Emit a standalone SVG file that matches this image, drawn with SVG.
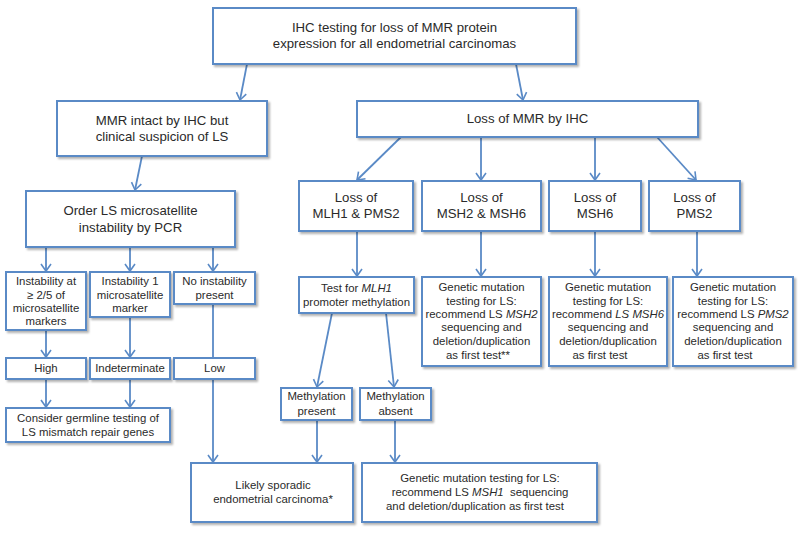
<svg xmlns="http://www.w3.org/2000/svg" width="800" height="540" viewBox="0 0 800 540">
<defs>
<filter id="sh" x="-10%" y="-10%" width="130%" height="140%">
<feDropShadow dx="2" dy="2" stdDeviation="1" flood-color="#000" flood-opacity="0.3"/>
</filter>
<marker id="ah" markerUnits="userSpaceOnUse" markerWidth="14" markerHeight="14" viewBox="-8 -7 10 14" refX="0" refY="0" orient="auto">
<path d="M-7,-5 L0,0 L-7,5" fill="none" stroke="#5a8ac6" stroke-width="1.6"/>
</marker>
<style>
.b{fill:#fff;stroke:#5a8ac6;stroke-width:2;filter:url(#sh)}
.c{stroke:#5a8ac6;stroke-width:1.8;fill:none}
.a{marker-end:url(#ah)}
text{font-family:"Liberation Sans",Arial,sans-serif;fill:#2a2a2a;text-anchor:middle}
.L{font-size:13.2px}
.s{font-size:11.4px}
.i{font-style:italic}
</style>
</defs>
<rect width="800" height="540" fill="#fff"/>

<g id="connectors">
<line class="c a" x1="247" y1="64" x2="240" y2="100"/>
<line class="c a" x1="516" y1="64" x2="523" y2="100"/>
<line class="c a" x1="142" y1="156" x2="135" y2="190"/>
<line class="c a" x1="401" y1="137" x2="357" y2="180"/>
<line class="c a" x1="481" y1="137" x2="481" y2="180"/>
<line class="c a" x1="595" y1="137" x2="595" y2="180"/>
<line class="c a" x1="657" y1="137" x2="696" y2="180"/>
<line class="c a" x1="46" y1="247" x2="46" y2="271"/>
<line class="c a" x1="130" y1="247" x2="130" y2="271"/>
<line class="c a" x1="213" y1="247" x2="213" y2="271"/>
<line class="c a" x1="46" y1="330" x2="46" y2="357"/>
<line class="c a" x1="130" y1="317" x2="130" y2="357"/>
<line class="c" x1="213" y1="304" x2="213" y2="358"/>
<line class="c a" x1="213" y1="379" x2="213" y2="462"/>
<line class="c a" x1="46" y1="379" x2="46" y2="407"/>
<line class="c a" x1="130" y1="379" x2="130" y2="407"/>
<line class="c a" x1="357" y1="231" x2="357" y2="276"/>
<line class="c a" x1="481" y1="231" x2="481" y2="276"/>
<line class="c a" x1="595" y1="231" x2="595" y2="276"/>
<line class="c a" x1="697" y1="231" x2="697" y2="276"/>
<line class="c a" x1="332" y1="313" x2="317" y2="387"/>
<line class="c a" x1="386" y1="313" x2="394" y2="387"/>
<line class="c a" x1="317" y1="420" x2="317" y2="462"/>
<line class="c a" x1="395" y1="420" x2="395" y2="462"/>
</g>

<g id="top">
<rect class="b" x="213" y="8" width="363" height="56"/>
<text class="L" x="394.5" y="32">IHC testing for loss of MMR protein</text>
<text class="L" x="394.5" y="48">expression for all endometrial carcinomas</text>
</g>

<g id="mmr-intact">
<rect class="b" x="57" y="101" width="210" height="55"/>
<text class="L" x="162" y="125">MMR intact by IHC but</text>
<text class="L" x="162" y="141">clinical suspicion of LS</text>
</g>

<g id="loss-mmr">
<rect class="b" x="357" y="101" width="341" height="36"/>
<text class="L" x="527.5" y="123">Loss of MMR by IHC</text>
</g>

<g id="order-ls">
<rect class="b" x="26" y="191" width="209" height="56"/>
<text class="L" x="130.5" y="215">Order LS microsatellite</text>
<text class="L" x="130.5" y="232">instability by PCR</text>
</g>

<g id="loss-mlh1">
<rect class="b" x="299" y="181" width="114" height="50"/>
<text class="L" x="356" y="202">Loss of</text>
<text class="L" x="356" y="218">MLH1 &amp; PMS2</text>
</g>

<g id="loss-msh2">
<rect class="b" x="422" y="181" width="119" height="50"/>
<text class="L" x="481.5" y="202">Loss of</text>
<text class="L" x="481.5" y="218">MSH2 &amp; MSH6</text>
</g>

<g id="loss-msh6">
<rect class="b" x="549" y="181" width="92" height="50"/>
<text class="L" x="595" y="202">Loss of</text>
<text class="L" x="595" y="218">MSH6</text>
</g>

<g id="loss-pms2">
<rect class="b" x="649" y="181" width="91" height="50"/>
<text class="L" x="694.5" y="202">Loss of</text>
<text class="L" x="694.5" y="218">PMS2</text>
</g>

<g id="test-mlh1">
<rect class="b" x="299" y="277" width="115" height="36"/>
<text class="s" x="356.5" y="292">Test for <tspan class="i">MLH1</tspan></text>
<text class="s" x="356.5" y="306">promoter methylation</text>
</g>

<g id="gen-msh2">
<rect class="b" x="422" y="277" width="119" height="89"/>
<text class="s" x="481.5" y="291">Genetic mutation</text>
<text class="s" x="481.5" y="305">testing for LS:</text>
<text class="s" x="481.5" y="318">recommend LS <tspan class="i">MSH2</tspan></text>
<text class="s" x="481.5" y="331">sequencing and</text>
<text class="s" x="481.5" y="345">deletion/duplication</text>
<text class="s" x="478" y="359">as first test**</text>
</g>

<g id="gen-msh6">
<rect class="b" x="549" y="277" width="118" height="89"/>
<text class="s" x="608" y="291">Genetic mutation</text>
<text class="s" x="608" y="305">testing for LS:</text>
<text class="s" x="608" y="318">recommend <tspan class="i">LS MSH6</tspan></text>
<text class="s" x="608" y="331">sequencing and</text>
<text class="s" x="608" y="345">deletion/duplication</text>
<text class="s" x="600" y="359">as first test</text>
</g>

<g id="gen-pms2">
<rect class="b" x="673" y="277" width="120" height="89"/>
<text class="s" x="733" y="291">Genetic mutation</text>
<text class="s" x="733" y="305">testing for LS:</text>
<text class="s" x="733" y="318">recommend LS <tspan class="i">PMS2</tspan></text>
<text class="s" x="733" y="331">sequencing and</text>
<text class="s" x="733" y="345">deletion/duplication</text>
<text class="s" x="725" y="359">as first test</text>
</g>

<g id="instab-high">
<rect class="b" x="6" y="272" width="80" height="58"/>
<text class="s" x="46" y="285">Instability at</text>
<text class="s" x="46" y="299">≥ 2/5 of</text>
<text class="s" x="46" y="312">microsatellite</text>
<text class="s" x="46" y="325">markers</text>
</g>

<g id="instab-one">
<rect class="b" x="90" y="272" width="80" height="45"/>
<text class="s" x="130" y="285">Instability 1</text>
<text class="s" x="130" y="299">microsatellite</text>
<text class="s" x="130" y="312">marker</text>
</g>

<g id="no-instab">
<rect class="b" x="174" y="272" width="81" height="32"/>
<text class="s" x="214.5" y="285">No instability</text>
<text class="s" x="214.5" y="299">present</text>
</g>

<g id="high">
<rect class="b" x="6" y="358" width="80" height="21"/>
<text class="s" x="46" y="372">High</text>
</g>

<g id="indeterminate">
<rect class="b" x="90" y="358" width="80" height="21"/>
<text class="s" x="130" y="372">Indeterminate</text>
</g>

<g id="low">
<rect class="b" x="174" y="358" width="81" height="21"/>
<text class="s" x="214.5" y="372">Low</text>
</g>

<g id="consider">
<rect class="b" x="6" y="408" width="164" height="34"/>
<text class="s" x="88" y="422">Consider germline testing of</text>
<text class="s" x="88" y="436">LS mismatch repair genes</text>
</g>

<g id="meth-present">
<rect class="b" x="281" y="388" width="71" height="32"/>
<text class="s" x="316.5" y="400">Methylation</text>
<text class="s" x="316.5" y="415">present</text>
</g>

<g id="meth-absent">
<rect class="b" x="360" y="388" width="71" height="32"/>
<text class="s" x="395.5" y="400">Methylation</text>
<text class="s" x="395.5" y="415">absent</text>
</g>

<g id="likely-sporadic">
<rect class="b" x="191" y="463" width="162" height="59"/>
<text class="s" x="273" y="489">Likely sporadic</text>
<text class="s" x="273" y="503">endometrial carcinoma*</text>
</g>

<g id="gen-mlh1">
<rect class="b" x="362" y="463" width="235" height="59"/>
<text class="s" x="480" y="482">Genetic mutation testing for LS:</text>
<text class="s" x="480" y="496">recommend LS <tspan class="i">MSH1</tspan><tspan dx="3.2"> sequencing</tspan></text>
<text class="s" x="475" y="510">and deletion/duplication as first test</text>
</g>
</svg>
